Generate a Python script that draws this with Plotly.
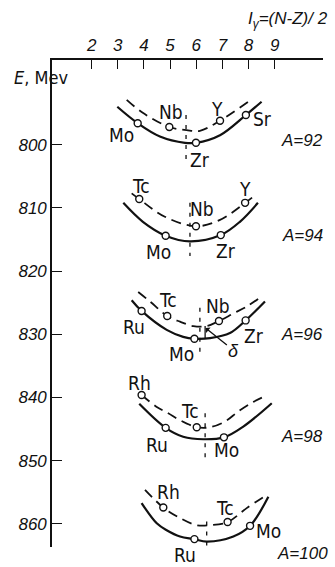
import plotly.graph_objects as go

# ---------------- data ----------------
# horizontal coordinate: I = (N-Z)/2 ; vertical: E, MeV
x_ticks = [2, 3, 4, 5, 6, 7, 8, 9]
y_ticks = [800, 810, 820, 830, 840, 850, 860]

# A = 92
a92_solid_I = [2.98, 3.76, 4.61, 5.57, 5.99, 6.91, 7.90, 8.50]
a92_solid_E = [794.0, 796.6, 798.7, 799.7, 799.7, 798.5, 795.3, 793.2]
a92_dash_I = [3.34, 3.97, 4.97, 5.63, 6.14, 6.91, 7.99]
a92_dash_E = [792.9, 795.0, 797.2, 797.7, 797.8, 796.2, 793.2]
a92_names = ["Mo", "Nb", "Zr", "Y", "Sr"]
a92_I = [3.76, 4.97, 5.99, 6.91, 7.90]
a92_E = [796.6, 797.2, 799.7, 796.2, 795.3]

# A = 94
a94_solid_I = [3.21, 3.96, 4.83, 5.76, 6.94, 7.67, 8.36]
a94_solid_E = [809.2, 812.2, 814.4, 815.3, 814.3, 812.2, 809.2]
a94_dash_I = [3.53, 3.82, 4.80, 5.99, 6.91, 7.87, 8.25]
a94_dash_E = [807.7, 808.6, 811.4, 812.9, 811.9, 809.2, 808.0]
a94_names = ["Tc", "Mo", "Nb", "Zr", "Y"]
a94_I = [3.82, 4.83, 5.99, 6.94, 7.87]
a94_E = [808.6, 814.4, 812.9, 814.3, 809.2]

# A = 96
a96_solid_I = [3.53, 3.91, 4.87, 5.50, 5.93, 6.53, 7.29, 7.89, 8.63]
a96_solid_E = [824.6, 826.3, 829.3, 830.4, 830.7, 830.6, 829.8, 827.8, 824.8]
a96_dash_I = [3.78, 4.23, 4.89, 5.38, 5.89, 6.40, 6.87, 7.42, 7.93, 8.57]
a96_dash_E = [823.3, 824.8, 827.1, 828.0, 828.7, 828.7, 827.9, 826.7, 825.6, 823.8]
a96_names = ["Ru", "Tc", "Mo", "Nb", "Zr"]
a96_I = [3.91, 4.89, 5.93, 6.87, 7.89]
a96_E = [826.3, 827.1, 830.7, 827.9, 827.8]

# A = 98
a98_solid_I = [3.82, 4.83, 5.50, 6.27, 7.06, 7.80, 8.89]
a98_solid_E = [841.0, 844.8, 846.2, 846.6, 846.3, 844.6, 840.9]
a98_dash_I = [3.91, 4.49, 4.93, 5.38, 6.02, 6.53, 7.10, 7.61, 8.18, 8.63]
a98_dash_E = [839.6, 841.5, 842.5, 843.6, 844.7, 844.7, 843.8, 842.2, 840.7, 839.8]
a98_names = ["Rh", "Ru", "Tc", "Mo"]
a98_I = [3.91, 4.83, 6.02, 7.06]
a98_E = [839.6, 844.8, 844.7, 846.3]

# A = 100
a100_solid_I = [3.91, 4.49, 4.87, 5.38, 5.93, 6.40, 7.42, 8.06, 8.76]
a100_solid_E = [856.7, 859.9, 861.0, 862.0, 862.4, 862.8, 862.0, 860.3, 855.7]
a100_dash_I = [4.04, 4.74, 5.31, 6.02, 6.53, 7.20, 7.93, 8.63]
a100_dash_E = [854.6, 857.4, 858.9, 860.2, 860.2, 859.7, 857.5, 855.6]
a100_names = ["Rh", "Ru", "Tc", "Mo"]
a100_I = [4.74, 5.93, 7.20, 8.06]
a100_E = [857.4, 862.4, 859.7, 860.3]

# vertical dashed lines through each minimum
mass_numbers = [92, 94, 96, 98, 100]
center_I = [5.61, 5.76, 6.14, 6.34, 6.40]
center_E_top = [795.3, 809.2, 825.8, 842.5, 859.6]
center_E_bottom = [802.7, 817.6, 833.6, 850.2, 863.6]
mass_label_E = [799.3, 814.3, 830.1, 846.2, 864.6]

# pairing gap delta for A = 96
delta_I = [6.34, 6.34]
delta_E = [828.7, 830.7]

# ---------------- styling ----------------
FONT = "Liberation Sans Narrow, DejaVu Sans Condensed, Liberation Sans, Arial"
NUM_FONT = "Liberation Sans, Arial"
BLACK = "#111111"
X_RANGE = [0.482, 10.85]
Y_RANGE = [863.65, 786.6]

# label offsets (pixels) for each nuclide label, per group
label_shift = {
    92: [(-16, -12), (2, 15), (4, -17), (-3, 12), (17, -4)],
    94: [(2, 13), (-7, -16), (6, 17), (5, -16), (0, 14)],
    96: [(-8, -16), (1, 16), (-13, -15), (-1, 15), (8, -16)],
    98: [(-2, 12), (-9, -17), (-7, 16), (3, -13)],
    100: [(5, 16), (-9, -16), (-3, 14), (18, -5)],
}

groups = [
    (92, a92_solid_I, a92_solid_E, a92_dash_I, a92_dash_E, a92_names, a92_I, a92_E),
    (94, a94_solid_I, a94_solid_E, a94_dash_I, a94_dash_E, a94_names, a94_I, a94_E),
    (96, a96_solid_I, a96_solid_E, a96_dash_I, a96_dash_E, a96_names, a96_I, a96_E),
    (98, a98_solid_I, a98_solid_E, a98_dash_I, a98_dash_E, a98_names, a98_I, a98_E),
    (100, a100_solid_I, a100_solid_E, a100_dash_I, a100_dash_E, a100_names, a100_I, a100_E),
]


def paper_y(E):
    return (Y_RANGE[0] - E) / (Y_RANGE[0] - Y_RANGE[1])


def paper_x(I):
    return (I - X_RANGE[0]) / (X_RANGE[1] - X_RANGE[0])


fig = go.Figure()
annotations = []

for k, (A, sI, sE, dI, dE, names, nI, nE) in enumerate(groups):
    # vertical centre line
    fig.add_trace(go.Scatter(
        x=[center_I[k], center_I[k]], y=[center_E_top[k], center_E_bottom[k]],
        mode="lines", line=dict(color=BLACK, width=1.3, dash="4px,6px"),
        hoverinfo="skip", showlegend=False))
    # dashed (odd-odd) curve
    fig.add_trace(go.Scatter(
        x=dI, y=dE, mode="lines",
        line=dict(color=BLACK, width=1.8, dash="10px,6px", shape="spline", smoothing=1.0),
        hoverinfo="skip", showlegend=False))
    # solid (even-even) curve
    fig.add_trace(go.Scatter(
        x=sI, y=sE, mode="lines",
        line=dict(color=BLACK, width=2.2, shape="spline", smoothing=1.0),
        hoverinfo="skip", showlegend=False))
    # nuclide points
    fig.add_trace(go.Scatter(
        x=nI, y=nE, mode="markers",
        marker=dict(size=7, color="white", line=dict(color=BLACK, width=1.4)),
        hoverinfo="skip", showlegend=False))
    for j, name in enumerate(names):
        dx, dy = label_shift[A][j]
        annotations.append(dict(
            x=nI[j], y=nE[j], xref="x", yref="y", text=name, showarrow=False,
            xanchor="center", yanchor="middle",
            xshift=dx, yshift=dy, font=dict(family=FONT, size=19, color=BLACK)))
    annotations.append(dict(
        x=paper_x(10.05), y=paper_y(mass_label_E[k]), xref="paper", yref="paper",
        xanchor="center", yanchor="middle",
        text=f"<i>A={A}</i>", showarrow=False,
        font=dict(family=NUM_FONT, size=17, color=BLACK)))

# delta marker for A = 96
fig.add_trace(go.Scatter(
    x=delta_I, y=delta_E, mode="lines", line=dict(color=BLACK, width=1.3),
    hoverinfo="skip", showlegend=False))
annotations.append(dict(
    x=6.36, y=829.0, xref="x", yref="y", ax=7.44, ay=832.6, axref="x", ayref="y",
    text="<i>δ</i>", showarrow=True, arrowhead=1, arrowsize=0.9, arrowwidth=1.3,
    arrowcolor=BLACK, font=dict(family=NUM_FONT, size=18, color=BLACK)))

# axis captions
annotations.append(dict(
    x=1.026, y=1.082, xref="paper", yref="paper", xanchor="right", yanchor="middle",
    text="<i>I<sub>γ</sub>=(N-Z)/ 2</i>", showarrow=False,
    font=dict(family=NUM_FONT, size=17, color=BLACK)))
annotations.append(dict(
    x=-0.04, y=0.965, xref="paper", yref="paper", xanchor="center", yanchor="middle",
    text="<i>E</i>, Mev", showarrow=False,
    font=dict(family=FONT, size=18, color=BLACK)))

fig.update_layout(
    width=335, height=567,
    margin=dict(l=52, r=12, t=60, b=20),
    paper_bgcolor="white", plot_bgcolor="white",
    showlegend=False,
    annotations=annotations,
    xaxis=dict(
        side="top", range=X_RANGE, tickvals=x_ticks,
        ticktext=[f"<i>{v}</i>" for v in x_ticks],
        ticks="inside", ticklen=9, tickwidth=1.3, tickcolor=BLACK,
        showline=True, linewidth=1.6, linecolor=BLACK,
        showgrid=False, zeroline=False,
        tickfont=dict(family=NUM_FONT, size=17, color=BLACK)),
    yaxis=dict(
        range=Y_RANGE, tickvals=y_ticks,
        ticktext=[f"<i>{v}</i>" for v in y_ticks],
        ticks="inside", ticklen=10, tickwidth=1.3, tickcolor=BLACK,
        showline=True, linewidth=1.6, linecolor=BLACK,
        showgrid=False, zeroline=False,
        tickfont=dict(family=NUM_FONT, size=17, color=BLACK)),
)

fig.write_html("out.html")
